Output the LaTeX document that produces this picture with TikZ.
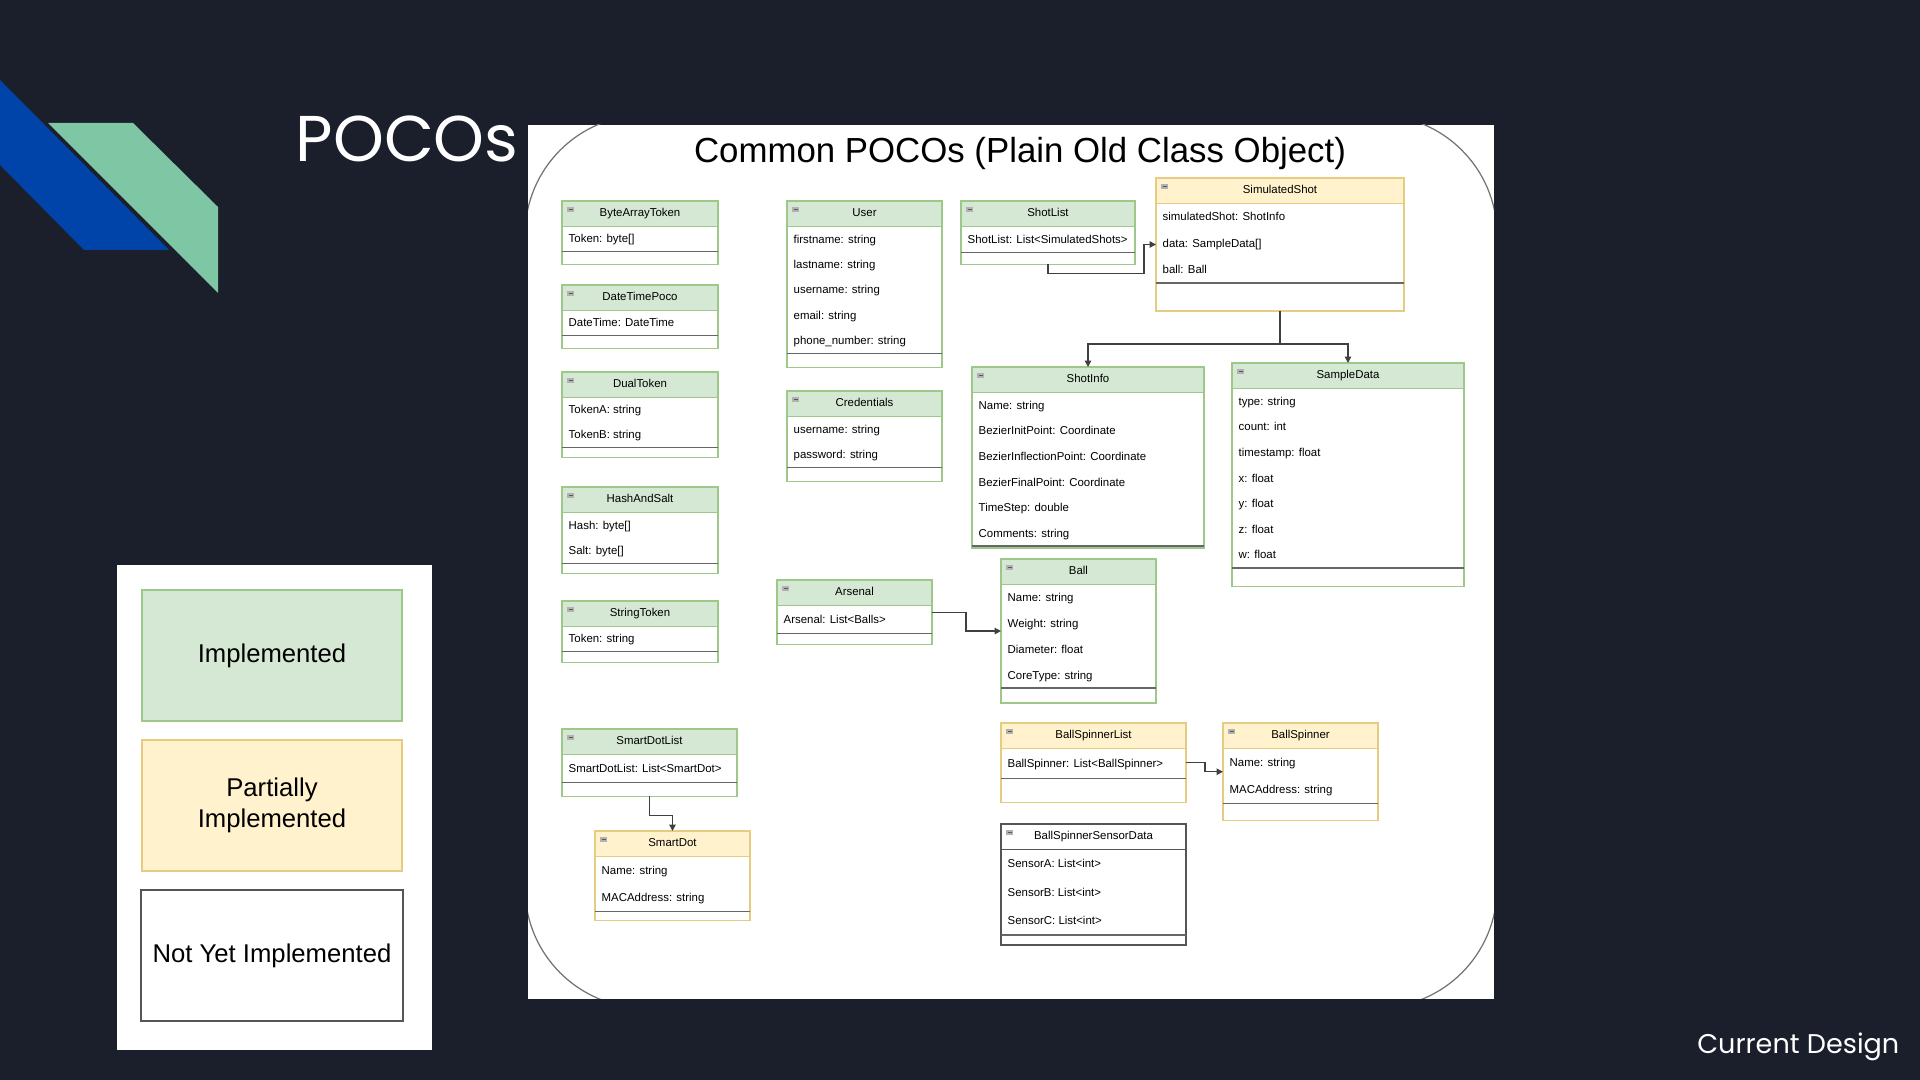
\documentclass[tikz,border=0pt]{standalone}
\usepackage{fontspec}
\setmainfont{Liberation Sans}
\newfontfamily\slidefont{Poppins}
\usetikzlibrary{arrows.meta,calc}
\definecolor{slidebg}{RGB}{27,31,43}
\definecolor{decoblue}{RGB}{0,68,170}
\definecolor{decogreen}{RGB}{127,198,164}
\definecolor{implfill}{HTML}{D5E8D4}
\definecolor{implline}{HTML}{9DC88A}
\definecolor{partfill}{HTML}{FFF2CC}
\definecolor{partline}{HTML}{E6CC80}
\definecolor{nonefill}{HTML}{FFFFFF}
\definecolor{noneline}{HTML}{555555}
\newcommand\pxu{0.01cm}
\def\nmem{0}
% one class box: name, kind, x, y (top), width, row height, bottom gap, title, members
\newcommand\umlclass[9]{%
  \foreach \m [count=\k] in {#9} {\xdef\nmem{\k}}%
  \pgfmathsetmacro\sepy{#4+25.5+\nmem*#6}%
  \pgfmathsetmacro\boty{\sepy+#7}%
  \node[class box=#2, minimum width=#5*\pxu, minimum height={(\boty-#4)*\pxu}, anchor=north west] (#1) at (#3,#4) {};
  \node[class head=#2, minimum width=#5*\pxu, anchor=north west] (#1-head) at (#3,#4) {#8};
  \fill[black!30] (#3+5,#4+6) rectangle ++(7,5); % collapse icon
  \draw[black!65, line width=0.3pt] (#3+6.5,#4+8.5) -- ++(4,0);
  \foreach \m [count=\k] in {#9}
    \node[member] (#1-\k) at (#3+6,#4+25.5+\k*#6-0.5*#6+4) {\m};
  \draw[sep line] (#3,\sepy) -- ++(#5,0);
}

\begin{document}
\begin{tikzpicture}[x=0.01cm, y=-0.01cm,
  class box/.style={draw=#1line, fill=white, line width=0.35pt, inner sep=0, outer sep=0},
  class head/.style={draw=#1line, fill=#1fill, line width=0.35pt, inner sep=0, outer sep=0,
    minimum height=25.5*\pxu, text height=2.4pt, text depth=0.7pt,
    font=\fontsize{3.25}{4}\selectfont},
  member/.style={font=\fontsize{3.25}{4}\selectfont, inner sep=0, anchor=base west},
  sep line/.style={draw=black!60, line width=0.55pt},
  conn/.style={draw=black!75, line width=0.4pt, -{Triangle[length=1.8pt, width=1.8pt]}},
  legend box/.style={draw=#1line, fill=#1fill, line width=0.6pt, minimum width=260*\pxu,
    minimum height=131*\pxu, align=center, font=\fontsize{7.3}{8.8}\selectfont},
]
\useasboundingbox (0,0) rectangle (1920,1080);
\fill[slidebg] (0,0) rectangle (1920,1080);

% corner decoration
\fill[decoblue] (0,80) -- (169,250) -- (84,250) -- (0,165) -- cycle;
\fill[decogreen] (48,123) -- (133,123) -- (218,207) -- (218,293) -- cycle;

\node[anchor=base west, inner sep=0, text=white, font=\slidefont\fontsize{18.4}{20}\selectfont]
  (slide-title) at (295,162) {POCOs};
\node[anchor=base east, inner sep=0, text=white, font=\slidefont\fontsize{7.7}{9}\selectfont]
  (slide-note) at (1900,1054) {Current Design};

% diagram panel
\fill[white] (528,125) rectangle (1494,999);
\begin{scope}
  \clip (528,125) rectangle (1494,999);
  \draw[black!55, line width=0.35pt, rounded corners=1.2cm] (525,115) rectangle (1497,1008);
\end{scope}
\node[anchor=base, inner sep=0, font=\fontsize{9.9}{11}\selectfont] (diagram-title) at (1020,163)
  {Common POCOs (Plain Old Class Object)};

\umlclass{ByteArrayToken}{impl}{562}{201}{156}{25}{13}{ByteArrayToken}{Token: byte[]}
\umlclass{DateTimePoco}{impl}{562}{285}{156}{25}{13}{DateTimePoco}{DateTime: DateTime}
\umlclass{DualToken}{impl}{562}{372}{156}{25}{10}{DualToken}{TokenA: string, TokenB: string}
\umlclass{HashAndSalt}{impl}{562}{487}{156}{25.5}{10}{HashAndSalt}{Hash: byte[], Salt: byte[]}
\umlclass{StringToken}{impl}{562}{601}{156}{25}{11}{StringToken}{Token: string}
\umlclass{User}{impl}{787}{201}{155}{25.4}{14}{User}{firstname: string, lastname: string,
  username: string, email: string, phone\_number: string}
\umlclass{Credentials}{impl}{787}{391}{155}{25.5}{14}{Credentials}{username: string, password: string}
\umlclass{ShotList}{impl}{961}{201}{174}{26}{12}{ShotList}{ShotList: List<SimulatedShots>}
\umlclass{SimulatedShot}{part}{1156}{178}{248}{26.5}{28}{SimulatedShot}{simulatedShot: ShotInfo,
  data: SampleData[], ball: Ball}
\umlclass{ShotInfo}{impl}{972}{367}{232}{25.6}{2}{ShotInfo}{Name: string, BezierInitPoint: Coordinate,
  BezierInflectionPoint: Coordinate, BezierFinalPoint: Coordinate, TimeStep: double, Comments: string}
\umlclass{SampleData}{impl}{1232}{363}{232}{25.6}{19}{SampleData}{type: string, count: int,
  timestamp: float, x: float, y: float, z: float, w: float}
\umlclass{Arsenal}{impl}{777}{580}{155}{28}{11}{Arsenal}{Arsenal: List<Balls>}
\umlclass{Ball}{impl}{1001}{559}{155}{25.9}{15}{Ball}{Name: string, Weight: string,
  Diameter: float, CoreType: string}
\umlclass{SmartDotList}{impl}{562}{729}{175}{28}{14}{SmartDotList}{SmartDotList: List<SmartDot>}
\umlclass{SmartDot}{part}{595}{831}{155}{27.5}{9}{SmartDot}{Name: string, MACAddress: string}
\umlclass{BallSpinnerList}{part}{1001}{723}{185}{30}{24}{BallSpinnerList}{BallSpinner: List<BallSpinner>}
\umlclass{BallSpinner}{part}{1223}{723}{155}{27.5}{17}{BallSpinner}{Name: string, MACAddress: string}
\umlclass{BallSpinnerSensorData}{none}{1001}{824}{185}{28.5}{10}{BallSpinnerSensorData}{SensorA: List<int>,
  SensorB: List<int>, SensorC: List<int>}

\draw[conn] (ShotList.south) -- ++(0,9) -| ($(SimulatedShot.west)+(-12,0)$) -- (SimulatedShot.west);
\draw[conn] (SimulatedShot.south) -- ++(0,33) -| (ShotInfo.north);
\draw[conn] (SimulatedShot.south) -- ++(0,33) -| (SampleData.north);
\draw[conn] (Arsenal.east) -- ++(34,0) |- (Ball.west);
\draw[conn] (SmartDotList.south) -- ++(0,19) -| (SmartDot.north);
\draw[conn] (BallSpinnerList.east) -- ++(19,0) |- (BallSpinner.west);

% legend
\fill[white] (117,565) rectangle (432,1050);
\node[legend box=impl] (leg-impl) at (272,655.5) {Implemented};
\node[legend box=part] (leg-part) at (272,805.5) {Partially\\Implemented};
\node[legend box=none] (leg-none) at (272,955.5) {Not Yet Implemented};
\end{tikzpicture}
\end{document}
